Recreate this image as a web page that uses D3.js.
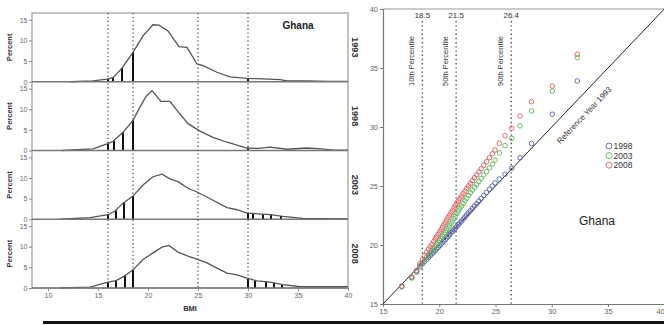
<!DOCTYPE html>
<html>
<head>
<meta charset="utf-8">
<script src="https://cdn.jsdelivr.net/npm/d3@7"></script>
<style>
  body { margin: 0; background: #fff; }
  svg { display: block; font-family: "Liberation Sans", Arial, sans-serif; }
</style>
</head>
<body>
<svg id="chart" width="664" height="325"></svg>
<script>
// ---------- BMI distributions by survey year (left panels) ----------
const years = ["1993", "1998", "2003", "2008"];

const bmi1993 = [12.2, 14.5, 15.9, 16.5, 17.4, 18.5, 19.5, 20.5, 21.1, 22.0, 23.1, 23.9, 24.9, 25.5, 26.9, 28.2, 29.9, 31.5, 33.2, 33.9, 36.0, 38.0, 40.0];
const pct1993 = [0, 0.2, 0.65, 1.0, 3.3, 7.1, 11.1, 13.8, 13.7, 12.3, 8.5, 8.3, 4.3, 3.9, 2.3, 1.2, 0.8, 0.7, 0.5, 0.2, 0.2, 0.1, 0.1];

const bmi1998 = [11.4, 14.5, 15.9, 16.5, 17.5, 18.5, 19.2, 19.8, 20.4, 21.3, 22.2, 22.9, 24.0, 25.2, 26.5, 27.9, 29.9, 31.0, 32.2, 33.9, 35.9, 37.3, 38.6, 40.0];
const pct1998 = [0, 0.4, 1.6, 2.2, 4.4, 7.3, 10.5, 13.1, 14.5, 11.9, 11.9, 9.7, 6.5, 4.7, 3.2, 2.0, 0.6, 0.5, 0.8, 0.3, 0.6, 0.4, 0.1, 0.1];

const bmi2003 = [11.2, 14.2, 16.0, 16.7, 17.5, 18.5, 19.5, 20.5, 21.4, 22.2, 23.0, 24.0, 24.9, 26.5, 27.9, 28.9, 29.9, 32.2, 33.5, 35.5, 40.0];
const pct2003 = [0, 0.4, 1.1, 2.0, 3.9, 5.6, 8.3, 10.3, 10.9, 9.8, 9.1, 7.5, 6.6, 4.6, 2.8, 2.3, 1.5, 1.1, 0.7, 0.2, 0.1];

const bmi2008 = [11.2, 14.2, 16.0, 16.8, 17.6, 18.5, 19.5, 20.5, 21.4, 22.1, 23.0, 24.0, 24.9, 25.9, 26.9, 27.9, 28.9, 29.9, 30.9, 32.2, 33.5, 35.2, 40.0];
const pct2008 = [0, 0.2, 1.4, 1.8, 2.8, 4.4, 6.9, 8.5, 9.9, 10.3, 8.7, 7.7, 7.0, 6.1, 4.8, 3.6, 3.2, 2.4, 1.7, 1.4, 0.8, 0.3, 0.3];

// drop lines marking thinness grades and obesity classes
const dropBmi1993 = [16.0, 16.5, 17.4, 18.5, 30.0];
const dropPct1993 = [0.65, 1.0, 3.3, 7.1, 0.8];
const dropBmi1998 = [16.0, 16.6, 17.5, 18.5, 30.0];
const dropPct1998 = [1.6, 2.3, 4.4, 7.3, 0.6];
const dropBmi2003 = [16.0, 16.8, 17.6, 18.5, 30.0, 30.5, 31.5, 32.3, 33.3];
const dropPct2003 = [1.1, 2.1, 4.1, 5.6, 1.5, 1.45, 1.3, 1.1, 0.8];
const dropBmi2008 = [16.0, 16.8, 17.7, 18.5, 30.0, 30.7, 31.8, 32.6, 33.4];
const dropPct2008 = [1.4, 1.8, 3.0, 4.4, 2.3, 1.8, 1.5, 1.2, 0.9];

const cutoffs = [16, 18.5, 25, 30];
const bmiTicks = [10, 15, 20, 25, 30, 35, 40];
const pctTicks = [0, 5, 10, 15];

// ---------- Quantile-quantile comparison against 1993 (right panel) ----------
const q1993 = [16.66, 17.55, 17.99, 18.29, 18.5, 18.7, 18.88, 19.05, 19.2, 19.35, 19.5, 19.63, 19.77, 19.9, 20.03, 20.16, 20.29, 20.42, 20.54, 20.66, 20.79, 20.92, 21.05, 21.18, 21.31, 21.44, 21.57, 21.7, 21.84, 21.98, 22.13, 22.28, 22.44, 22.6, 22.77, 22.95, 23.13, 23.32, 23.52, 23.73, 23.96, 24.2, 24.46, 24.72, 24.96, 25.34, 25.84, 26.44, 27.18, 28.2, 30.05, 32.27];
const q1998 = [16.5, 17.25, 17.75, 18.15, 18.4, 18.6, 18.78, 18.95, 19.1, 19.25, 19.4, 19.53, 19.67, 19.8, 19.94, 20.07, 20.2, 20.34, 20.47, 20.6, 20.74, 20.88, 21.02, 21.16, 21.3, 21.44, 21.58, 21.73, 21.88, 22.03, 22.2, 22.37, 22.55, 22.72, 22.9, 23.1, 23.3, 23.5, 23.72, 23.95, 24.2, 24.45, 24.72, 25.0, 25.25, 25.6, 26.0, 26.5, 27.4, 28.6, 31.08, 33.9];
const q2003 = [16.45, 17.2, 17.7, 18.25, 18.52, 18.78, 19.0, 19.2, 19.33, 19.52, 19.7, 19.87, 20.04, 20.2, 20.37, 20.54, 20.72, 20.9, 21.08, 21.25, 21.44, 21.63, 21.83, 22.03, 22.24, 22.45, 22.67, 22.88, 23.1, 23.3, 23.52, 23.74, 23.96, 24.2, 24.43, 24.66, 24.9, 25.12, 25.38, 25.64, 25.94, 26.22, 26.53, 26.85, 27.2, 27.8, 28.42, 29.04, 30.1, 31.36, 33.05, 35.88];
const q2008 = [16.5, 17.3, 17.85, 18.4, 18.75, 19.1, 19.4, 19.65, 19.85, 20.05, 20.3, 20.5, 20.7, 20.9, 21.1, 21.3, 21.5, 21.72, 21.92, 22.12, 22.33, 22.53, 22.73, 22.93, 23.14, 23.35, 23.55, 23.74, 23.94, 24.14, 24.35, 24.57, 24.8, 25.0, 25.22, 25.46, 25.7, 25.95, 26.2, 26.46, 26.75, 27.06, 27.4, 27.73, 28.05, 28.62, 29.26, 29.89, 30.93, 32.15, 33.47, 36.16];

const qqYears = ["1998", "2003", "2008"];
const qqColors = ["#5863a8", "#5fb25f", "#d85f5f"];
const refBmi = [18.5, 21.5, 26.4];
const refLabels = ["18.5", "21.5", "26.4"];
const refNames = ["10th Percentile", "50th Percentile", "90th Percentile"];
const qqTicks = [15, 20, 25, 30, 35, 40];

const svg = d3.select("#chart");

// ================= left: stacked histograms =================
const curves = [
  { x: bmi1993, y: pct1993, dx: dropBmi1993, dy: dropPct1993 },
  { x: bmi1998, y: pct1998, dx: dropBmi1998, dy: dropPct1998 },
  { x: bmi2003, y: pct2003, dx: dropBmi2003, dy: dropPct2003 },
  { x: bmi2008, y: pct2008, dx: dropBmi2008, dy: dropPct2008 }
];

const L = { left: 32, right: 348, top: 13, bottom: 288 };
const panelH = (L.bottom - L.top) / years.length;
const xL = d3.scaleLinear().domain([8.4, 40]).range([L.left, L.right]);

const left = svg.append("g");

// frame
left.append("rect")
  .attr("x", L.left).attr("y", L.top)
  .attr("width", L.right - L.left).attr("height", L.bottom - L.top)
  .attr("fill", "none").attr("stroke", "#9a9a9a").attr("stroke-width", 1.2);

// cut-off reference lines spanning all panels
left.selectAll("line.cut").data(cutoffs).join("line")
  .attr("x1", d => xL(d)).attr("x2", d => xL(d))
  .attr("y1", L.top).attr("y2", L.bottom)
  .attr("stroke", "#555").attr("stroke-width", 1.3)
  .attr("stroke-dasharray", "1.3,2.6");

years.forEach((yr, i) => {
  const top = L.top + i * panelH;
  const bottom = top + panelH;
  const y = d3.scaleLinear().domain([0, 16.65]).range([bottom, top]);
  const c = curves[i];
  const g = left.append("g");

  // y axis
  const ax = g.append("g").attr("transform", `translate(${L.left},0)`)
    .call(d3.axisLeft(y).tickValues(pctTicks).tickSize(3).tickPadding(1.5).tickFormat(d3.format("d")));
  ax.select(".domain").remove();
  ax.selectAll("line").attr("stroke", "#888");
  ax.selectAll("text").attr("fill", "#666").attr("font-size", 7);

  // drop lines
  g.selectAll("line.drop").data(c.dx).join("line")
    .attr("x1", d => xL(d)).attr("x2", d => xL(d))
    .attr("y1", y(0)).attr("y2", (d, j) => y(c.dy[j]))
    .attr("stroke", "#111").attr("stroke-width", 2);

  // distribution curve
  const pts = c.x.map((v, j) => [v, c.y[j]]);
  g.append("path").datum(pts)
    .attr("d", d3.line().x(d => xL(d[0])).y(d => y(d[1])))
    .attr("fill", "none").attr("stroke", "#555").attr("stroke-width", 1.3);

  // baseline
  g.append("line")
    .attr("x1", L.left).attr("x2", L.right)
    .attr("y1", y(0)).attr("y2", y(0))
    .attr("stroke", "#777").attr("stroke-width", 1.4);

  // Percent label
  g.append("text")
    .attr("transform", `translate(12,${(top + bottom) / 2}) rotate(-90)`)
    .attr("text-anchor", "middle")
    .attr("font-size", 7.5).attr("font-weight", "bold").attr("fill", "#333")
    .text("Percent");

  // strip label
  g.append("text")
    .attr("transform", `translate(352,${(top + bottom) / 2}) rotate(90)`)
    .attr("text-anchor", "middle")
    .attr("font-size", 9).attr("font-weight", "bold").attr("fill", "#333")
    .text(yr);
});

// x axis
const axL = left.append("g").attr("transform", `translate(0,${L.bottom})`)
  .call(d3.axisBottom(xL).tickValues(bmiTicks).tickSize(3).tickPadding(2));
axL.select(".domain").remove();
axL.selectAll("line").attr("stroke", "#888");
axL.selectAll("text").attr("fill", "#666").attr("font-size", 7);

left.append("text")
  .attr("x", 190).attr("y", 311)
  .attr("text-anchor", "middle")
  .attr("font-size", 7.5).attr("font-weight", "bold").attr("fill", "#333")
  .text("BMI");

left.append("text")
  .attr("x", 298).attr("y", 29)
  .attr("text-anchor", "middle")
  .attr("font-size", 10).attr("font-weight", "bold").attr("fill", "#222")
  .text("Ghana");

// ================= right: Q-Q plot =================
const R = { left: 383, right: 664.25, top: 9, bottom: 304 };
const xR = d3.scaleLinear().domain([15, 40]).range([R.left, R.right]);
const yR = d3.scaleLinear().domain([15, 40]).range([R.bottom, R.top]);

const right = svg.append("g");

right.append("line")
  .attr("x1", R.left).attr("x2", R.right).attr("y1", R.top).attr("y2", R.top)
  .attr("stroke", "#9a9a9a").attr("stroke-width", 1.2);

const axRy = right.append("g").attr("transform", `translate(${R.left},0)`)
  .call(d3.axisLeft(yR).tickValues(qqTicks).tickSize(3).tickPadding(2));
axRy.select(".domain").attr("stroke", "#777").attr("stroke-width", 1.2);
axRy.selectAll("line").attr("stroke", "#777");
axRy.selectAll("text").attr("fill", "#666").attr("font-size", 7.5);

const axRx = right.append("g").attr("transform", `translate(0,${R.bottom})`)
  .call(d3.axisBottom(xR).tickValues(qqTicks).tickSize(3).tickPadding(2));
axRx.select(".domain").attr("stroke", "#777").attr("stroke-width", 1.2);
axRx.selectAll("line").attr("stroke", "#777");
axRx.selectAll("text").attr("fill", "#666").attr("font-size", 7.5);
// last label sits on the right edge of the page
axRx.selectAll("text").filter(d => d === 40).attr("text-anchor", "end");

// percentile reference lines
right.selectAll("line.ref").data(refBmi).join("line")
  .attr("x1", d => xR(d)).attr("x2", d => xR(d))
  .attr("y1", 21).attr("y2", R.bottom)
  .attr("stroke", "#555").attr("stroke-width", 1.4)
  .attr("stroke-dasharray", "1.4,2.8");

right.selectAll("text.refval").data(refBmi).join("text")
  .attr("x", d => xR(d)).attr("y", 18)
  .attr("text-anchor", "middle")
  .attr("font-size", 8).attr("fill", "#333")
  .text((d, i) => refLabels[i]);

right.selectAll("text.refname").data(refBmi).join("text")
  .attr("transform", d => `translate(${xR(d) - 8},61) rotate(-90)`)
  .attr("text-anchor", "middle")
  .attr("font-size", 7.5).attr("fill", "#333")
  .text((d, i) => refNames[i]);

// identity line for the 1993 reference distribution
right.append("line")
  .attr("x1", xR(15)).attr("y1", yR(15))
  .attr("x2", xR(40)).attr("y2", yR(40))
  .attr("stroke", "#222").attr("stroke-width", 1);

const ang = Math.atan2(yR(40) - yR(15), xR(40) - xR(15)) * 180 / Math.PI;
const mid = 31.9;
right.append("text")
  .attr("transform", `translate(${xR(mid)},${yR(mid)}) rotate(${ang}) translate(0,18)`)
  .attr("text-anchor", "middle")
  .attr("font-size", 8).attr("fill", "#333")
  .text("Reference Year 1993");

// quantile points
const qSeries = [q1998, q2003, q2008];
qSeries.forEach((ys, k) => {
  right.append("g").selectAll("circle").data(q1993).join("circle")
    .attr("cx", d => xR(d))
    .attr("cy", (d, j) => yR(ys[j]))
    .attr("r", 2.3)
    .attr("fill", "none")
    .attr("stroke", qqColors[k])
    .attr("stroke-width", 0.9);
});

// legend
const leg = right.append("g");
qqYears.forEach((yr, k) => {
  const ly = 146 + k * 9.6;
  leg.append("circle").attr("cx", 609).attr("cy", ly).attr("r", 3)
    .attr("fill", "none").attr("stroke", qqColors[k]).attr("stroke-width", 0.9);
  leg.append("text").attr("x", 613.5).attr("y", ly + 3)
    .attr("font-size", 8.5).attr("fill", "#333").text(yr);
});

right.append("text")
  .attr("x", 597).attr("y", 225)
  .attr("text-anchor", "middle")
  .attr("font-size", 12).attr("fill", "#222")
  .text("Ghana");

// bottom rule
svg.append("rect")
  .attr("x", 43).attr("y", 321).attr("width", 621).attr("height", 3)
  .attr("fill", "#111");
</script>
</body>
</html>
